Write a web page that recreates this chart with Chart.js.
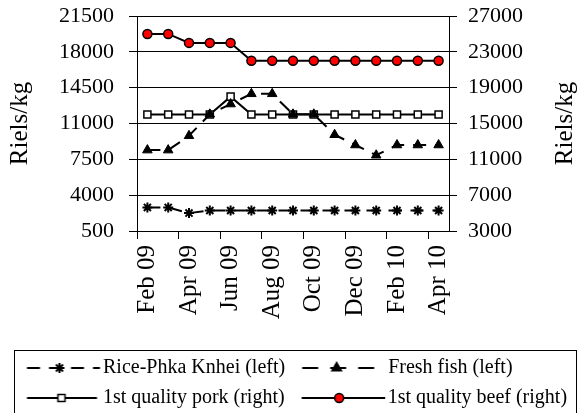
<!DOCTYPE html>
<html>
<head>
<meta charset="utf-8">
<script src="https://cdn.jsdelivr.net/npm/chart.js@4.4.1/dist/chart.umd.min.js"></script>
<style>
  body { margin: 0; background: #fff; }
  #wrap { width: 579px; height: 413px; position: relative; }
</style>
</head>
<body>
<div id="wrap"><canvas id="chart"></canvas></div>
<script>
// Mois (un point par mois, étiquette affichée un mois sur deux)
const months = ['Feb 09', 'Mar 09', 'Apr 09', 'May 09', 'Jun 09', 'Jul 09', 'Aug 09', 'Sep 09',
                'Oct 09', 'Nov 09', 'Dec 09', 'Jan 10', 'Feb 10', 'Mar 10', 'Apr 10'];

// Prix en riels/kg
const rice = [2800, 2800, 2250, 2500, 2500, 2500, 2500, 2500, 2500, 2500, 2500, 2500, 2500, 2500, 2500];
const fish = [8400, 8400, 9800, 11900, 12900, 13900, 13900, 11900, 11900, 9900, 8900, 7900, 8900, 8900, 8900];
const pork = [16000, 16000, 16000, 16000, 18000, 16000, 16000, 16000, 16000, 16000, 16000, 16000, 16000, 16000, 16000];
const beef = [25000, 25000, 24000, 24000, 24000, 22000, 22000, 22000, 22000, 22000, 22000, 22000, 22000, 22000, 22000];

// Axes
const leftMin = 500, leftMax = 21500, leftStep = 3500;
const rightMin = 3000, rightMax = 27000, rightStep = 4000;

const serif = 'Liberation Serif';

// Petit dessin "ligne + marqueur" pour la légende
function legendSample(dash, pointStyle, radius, fill, start, end, markX) {
    const c = document.createElement('canvas');
    c.width = 100;
    c.height = 20;
    const g = c.getContext('2d');
    g.strokeStyle = '#000';
    g.lineWidth = 2;
    g.setLineDash(dash);
    g.beginPath();
    g.moveTo(start, 10);
    g.lineTo(end, 10);
    g.stroke();
    g.setLineDash([]);
    g.fillStyle = fill;
    g.lineWidth = pointStyle === 'star' ? 2 : 1.5;
    Chart.helpers.drawPoint(g, { pointStyle: pointStyle, radius: radius, borderWidth: g.lineWidth, rotation: 0 }, markX, 10);
    return c;
}

const samples = [
    legendSample([13, 9], 'star', 5, '#000', 25.5, 98.5, 58),
    legendSample([16, 12], 'triangle', 5.5, '#000', 15.5, 98.5, 50),
    legendSample([], 'rect', 5, '#fff', 25.5, 95.5, 60),
    legendSample([], 'circle', 4.5, '#FF0000', 15.5, 99, 53)
];

// Cadre autour de la légende
const legendFrame = {
    id: 'legendFrame',
    afterDraw(chart) {
        const lg = chart.legend;
        const ctx = chart.ctx;
        ctx.save();
        ctx.strokeStyle = '#000';
        ctx.lineWidth = 1;
        ctx.strokeRect(lg.left + 14.5, lg.top + 2.5, lg.width - 17, lg.height + 10);
        ctx.restore();
    }
};

// Titres des deux axes (les deux écrits de bas en haut)
const axisTitles = {
    id: 'axisTitles',
    afterDraw(chart) {
        const { ctx, chartArea, scales } = chart;
        const midY = (chartArea.top + chartArea.bottom) / 2;
        const put = (x, y) => {
            ctx.save();
            ctx.translate(x, y);
            ctx.rotate(-Math.PI / 2);
            ctx.fillText('Riels/kg', 0, 0);
            ctx.restore();
        };
        ctx.save();
        ctx.font = '25px "' + serif + '"';
        ctx.fillStyle = '#000';
        ctx.textAlign = 'center';
        ctx.textBaseline = 'middle';
        put(scales.y.left + 20, midY);
        put(scales.y1.right - 14, midY);
        ctx.restore();
    }
};

// Les étiquettes débordent un peu en haut : on ne veut pas que ça pousse la zone du graphique
const noLabelPadding = scale => {
    scale.paddingTop = 0;
    scale.paddingBottom = 0;
};

const ctx = document.getElementById('chart').getContext('2d');

new Chart(ctx, {
    type: 'line',
    data: {
        labels: months,
        datasets: [
            {
                label: 'Rice-Phka Knhei (left)',
                data: rice,
                yAxisID: 'y',
                borderColor: '#000',
                borderWidth: 2,
                borderDash: [13, 9],
                pointStyle: 'star',
                pointRadius: 5,
                pointBorderWidth: 2,
                pointBorderColor: '#000',
                pointBackgroundColor: '#000'
            },
            {
                label: 'Fresh fish (left)',
                data: fish,
                yAxisID: 'y',
                borderColor: '#000',
                borderWidth: 2,
                borderDash: [13, 9],
                pointStyle: 'triangle',
                pointRadius: 5.5,
                pointBorderWidth: 1,
                pointBorderColor: '#000',
                pointBackgroundColor: '#000'
            },
            {
                label: '1st quality pork (right)',
                data: pork,
                yAxisID: 'y1',
                borderColor: '#000',
                borderWidth: 2,
                pointStyle: 'rect',
                pointRadius: 5,
                pointBorderWidth: 1.5,
                pointBorderColor: '#000',
                pointBackgroundColor: '#fff'
            },
            {
                label: '1st quality beef (right)',
                data: beef,
                yAxisID: 'y1',
                borderColor: '#000',
                borderWidth: 2,
                pointStyle: 'circle',
                pointRadius: 4.5,
                pointBorderWidth: 1.5,
                pointBorderColor: '#000',
                pointBackgroundColor: '#FF0000'
            }
        ]
    },
    options: {
        responsive: true,
        maintainAspectRatio: false,
        animation: false,
        events: [],
        layout: {
            padding: { top: 16, left: 0, right: 0, bottom: -5 }
        },
        scales: {
            x: {
                offset: true,
                afterFit: scale => { scale.height = 117; },
                grid: {
                    offset: true,
                    drawOnChartArea: false,
                    tickLength: 8,
                    tickColor: c => c.index % 2 === 0 ? '#000' : 'rgba(0,0,0,0)'
                },
                border: { color: '#000', width: 1 },
                ticks: {
                    autoSkip: false,
                    minRotation: 90,
                    maxRotation: 90,
                    padding: 6,
                    color: '#000',
                    font: { family: serif, size: 25 },
                    callback: function (value, index) {
                        return index % 2 === 0 ? this.getLabelForValue(value) : '';
                    }
                }
            },
            y: {
                position: 'left',
                min: leftMin,
                max: leftMax,
                afterFit: scale => { scale.width = 137; noLabelPadding(scale); },
                grid: { color: '#000', lineWidth: 1, tickLength: 8, tickColor: '#000' },
                border: { color: '#000', width: 1 },
                ticks: {
                    stepSize: leftStep,
                    padding: 15,
                    color: '#000',
                    font: { family: serif, size: 22 },
                    callback: v => String(v)
                }
            },
            y1: {
                position: 'right',
                min: rightMin,
                max: rightMax,
                afterFit: scale => { scale.width = 130; noLabelPadding(scale); },
                grid: { drawOnChartArea: false, tickLength: 8, tickColor: '#000' },
                border: { color: '#000', width: 1 },
                ticks: {
                    stepSize: rightStep,
                    padding: 11,
                    color: '#000',
                    font: { family: serif, size: 22 },
                    callback: v => String(v)
                }
            }
        },
        plugins: {
            tooltip: { enabled: false },
            legend: {
                position: 'bottom',
                align: 'start',
                labels: {
                    usePointStyle: true,
                    pointStyleWidth: 83,
                    padding: 10,
                    color: '#000',
                    font: { family: serif, size: 20 },
                    generateLabels(chart) {
                        const items = Chart.defaults.plugins.legend.labels.generateLabels(chart);
                        items.forEach((item, i) => { item.pointStyle = samples[i]; });
                        return items;
                    }
                }
            }
        }
    },
    plugins: [legendFrame, axisTitles]
});
</script>
</body>
</html>
